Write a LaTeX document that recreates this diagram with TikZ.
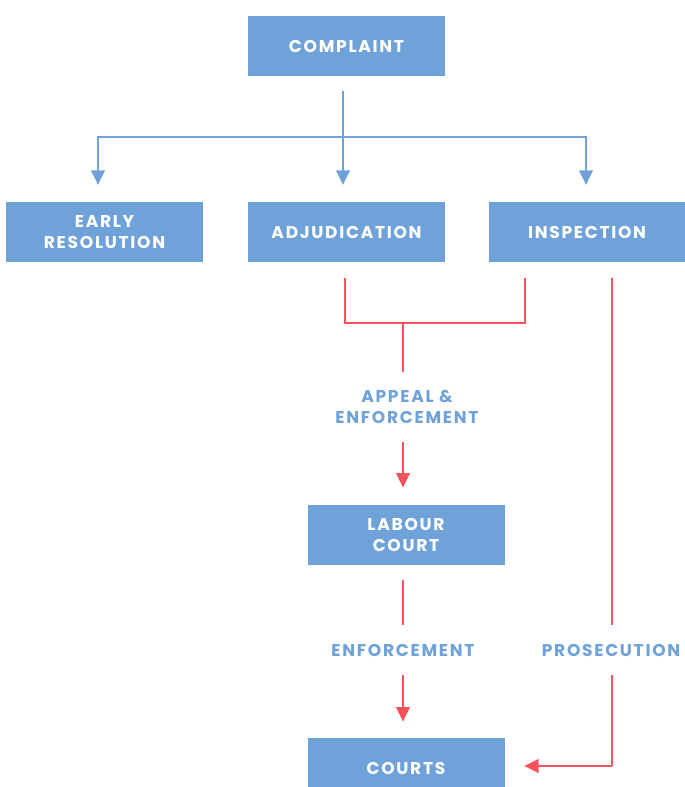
\documentclass[tikz,border=0pt]{standalone}
\usepackage{fontspec}
\setmainfont{Poppins}[LetterSpace=10]
\usetikzlibrary{arrows.meta}
\definecolor{boxblue}{RGB}{111,162,216}
\definecolor{linered}{RGB}{245,82,92}
\tikzset{
    stage/.style={rectangle, fill=boxblue, text=white, font=\bfseries\fontsize{12.8}{15.8}\selectfont,
        minimum width=147.75pt, minimum height=45pt, align=center, inner sep=0pt},
    route/.style={rectangle, text=boxblue, font=\bfseries\fontsize{12.8}{15.8}\selectfont,
        align=center, inner sep=0pt},
    bluelink/.style={draw=boxblue, line width=2.1pt},
    redlink/.style={draw=linered, line width=2.1pt},
    tip/.style={-{Triangle[width=10pt,length=11pt]}}
}

\begin{document}
\begin{tikzpicture}[x=0.75pt, y=-0.75pt]
        \useasboundingbox (0,0) rectangle (684,787);
        \node (comp) [stage] at (346.5, 46) {COMPLAINT};
        \node (early) [stage] at (104.5, 232) {EARLY\\RESOLUTION};
        \node (adj) [stage] at (346.5, 232) {ADJUDICATION};
        \node (insp) [stage] at (587, 232) {INSPECTION};
        \node (labour) [stage] at (406, 535) {LABOUR\\COURT};
        \node (courts) [stage] at (406, 768) {COURTS};
        \node (appeal) [route, minimum height=52.5pt] at (407, 407) {APPEAL \&\\ENFORCEMENT};
        \node (enf) [route, minimum height=37.5pt] at (403, 650) {ENFORCEMENT};
        \node (pros) [route, minimum height=37.5pt] at (611, 650) {PROSECUTION};
        \coordinate (split) at (343, 137);
        \coordinate (earlyin) at (98, 185);
        \coordinate (adjin) at (343, 185);
        \coordinate (inspin) at (586, 185);
        \coordinate (adjout) at (345, 278);
        \coordinate (inspout) at (525, 278);
        \coordinate (join) at (403, 323);
        \coordinate (prosout) at (612, 278);
        \coordinate (corner) at (612, 766);
        \coordinate (courtsin) at (524, 766);
        % complaint splits three ways
        \draw [bluelink, shorten <=11.25pt] (comp.south -| split) -- (split);
        \draw [bluelink, tip] (split) -| (earlyin);
        \draw [bluelink, tip] (split) -- (adjin);
        \draw [bluelink, tip] (split) -| (inspin);
        % appeal route
        \draw [redlink] (adjout) |- (join);
        \draw [redlink] (inspout) |- (join);
        \draw [redlink] (join) -- (appeal.north -| join);
        \draw [redlink, tip, shorten >=12.75pt] (appeal.south -| join) -- (labour.north -| join);
        \draw [redlink, shorten <=11.25pt] (labour.south -| enf) -- (enf.north);
        \draw [redlink, tip, shorten >=12pt] (enf.south) -- (courts.north -| enf);
        % prosecution route
        \draw [redlink] (prosout) -- (pros.north -| prosout);
        \draw [redlink] (pros.south -| prosout) -- (corner);
        \draw [redlink, tip] (corner) -- (courtsin);
\end{tikzpicture}
\end{document}
